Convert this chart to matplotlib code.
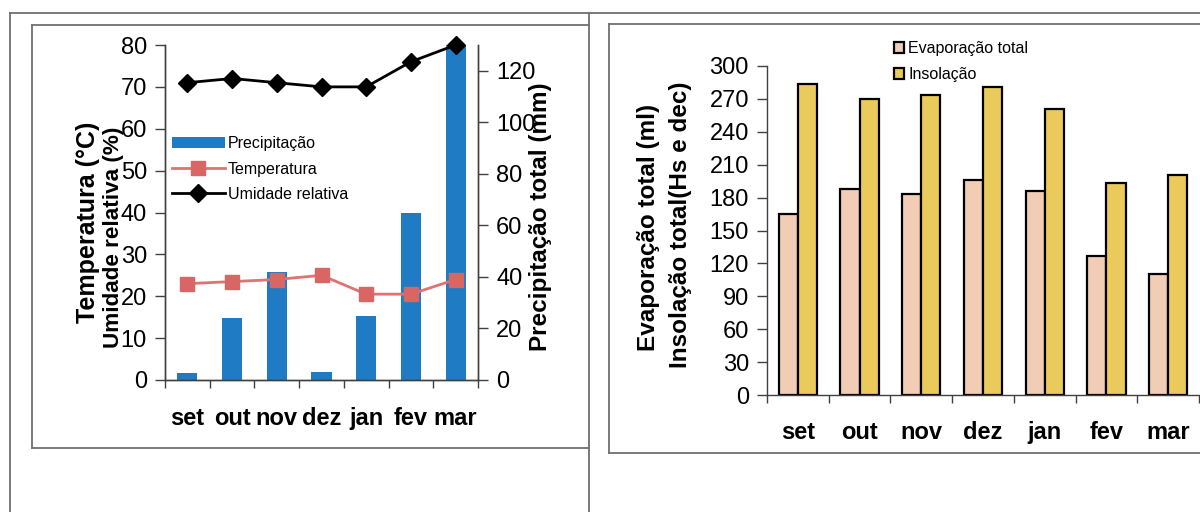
import matplotlib
matplotlib.use('Agg')
import matplotlib.pyplot as plt
from matplotlib.lines import Line2D
import numpy as np

plt.rcParams['font.family'] = ['Liberation Sans', 'DejaVu Sans']

# data
meses = ['set', 'out', 'nov', 'dez', 'jan', 'fev', 'mar']
precipitacao = [2.8, 24, 42, 3.2, 24.7, 65, 130]
temperatura = [23, 23.5, 24, 25, 20.5, 20.5, 24]
umidade = [71, 72, 71, 70, 70, 76, 80]
evaporacao = [165, 188, 183, 196, 186, 127, 110]
insolacao = [284, 270, 274, 281, 261, 193, 201]

W, H = 1200, 512
fig = plt.figure(figsize=(W / 100, H / 100), dpi=100)


def fx(x):
    return x / W


def fy(y):
    return 1 - y / H


def line(x0, y0, x1, y1, color='#707070', lw=1.3):
    fig.add_artist(Line2D([fx(x0), fx(x1)], [fy(y0), fy(y1)],
                          transform=fig.transFigure, color=color, lw=lw))


# frames
line(10, 13, 1200, 13)
line(10, 13, 10, 512)
line(589, 13, 589, 512)
line(32, 25, 589, 25)
line(32, 25, 32, 448)
line(32, 448, 589, 448)
line(609, 24, 1200, 24)
line(609, 24, 609, 453)
line(609, 453, 1200, 453)

AX = '#404040'
TICK_FS = 17
MONTH_FS = 17
LABEL_FS = 17.5
LEG_FS = 11.5
x = np.arange(len(meses))

# ---------- left chart ----------
ax_bar = fig.add_axes([fx(165), fy(380), fx(478) - fx(165), fy(45) - fy(380)])
ax_bar.bar(x, precipitacao, width=0.45, color='#1f7bc4', label='Precipitação')
ax_bar.set_xlim(-0.5, 6.5)
ax_bar.set_ylim(0, 130)
ax_bar.set_yticks([0, 20, 40, 60, 80, 100, 120])

ax_line = ax_bar.twinx()
ax_line.plot(x, temperatura, color='#e07272', lw=2, marker='s', markersize=9.5,
             markerfacecolor='#d96565', markeredgecolor='#d96565', label='Temperatura',
             clip_on=False)
ax_line.plot(x, umidade, color='black', lw=2, marker='D', markersize=9,
             label='Umidade relativa', clip_on=False)
ax_line.set_ylim(0, 80)
ax_line.set_yticks(range(0, 81, 10))

# bars read on the right axis, lines on the left one
ax_bar.yaxis.tick_right()
ax_line.yaxis.tick_left()

for a in (ax_bar, ax_line):
    a.spines['top'].set_visible(False)
    for s in ('left', 'right', 'bottom'):
        a.spines[s].set_color(AX)
        a.spines[s].set_linewidth(1)
    a.tick_params(axis='y', length=7, width=1, color=AX, labelsize=TICK_FS, pad=6)

ax_bar.set_xticks(x)
ax_bar.set_xticklabels(meses, fontsize=MONTH_FS, fontweight='bold')
ax_bar.set_xticks(np.arange(-0.5, 7, 1), minor=True)
ax_bar.tick_params(axis='x', which='major', length=0, pad=19.5)
ax_bar.tick_params(axis='x', which='minor', length=6, width=1, color=AX)

h1, l1 = ax_bar.get_legend_handles_labels()
h2, l2 = ax_line.get_legend_handles_labels()
ax_line.legend(h1 + h2, l1 + l2, loc='upper left', bbox_to_anchor=(fx(172), fy(136)),
               bbox_transform=fig.transFigure, frameon=False, fontsize=LEG_FS,
               handlelength=3.3, handletextpad=0.2, labelspacing=0.66, borderpad=0,
               borderaxespad=0)

fig.text(fx(88), fy(222), 'Temperatura (°C)', rotation=90, ha='center', va='center',
         fontsize=18, fontweight='bold')
fig.text(fx(114), fy(237), 'Umidade relativa (%)', rotation=90, ha='center', va='center',
         fontsize=16.2, fontweight='bold')
fig.text(fx(540), fy(217), 'Precipitação total (mm)', rotation=90, ha='center', va='center',
         fontsize=LABEL_FS, fontweight='bold')

# ---------- right chart ----------
ax2 = fig.add_axes([fx(767), fy(395), fx(1199) - fx(767), fy(66) - fy(395)])
bw = 0.31
ax2.bar(x - bw / 2, evaporacao, width=bw, color='#f1cdb6', edgecolor='black',
        linewidth=1.6, label='Evaporação total')
ax2.bar(x + bw / 2, insolacao, width=bw, color='#ebca5c', edgecolor='black',
        linewidth=1.6, label='Insolação')
ax2.set_xlim(-0.5, 6.5)
ax2.set_ylim(0, 300)
ax2.set_yticks(range(0, 301, 30))
for s in ('top', 'right'):
    ax2.spines[s].set_visible(False)
for s in ('left', 'bottom'):
    ax2.spines[s].set_color(AX)
    ax2.spines[s].set_linewidth(1)
ax2.tick_params(axis='y', length=7, width=1, color=AX, labelsize=TICK_FS, pad=6)
ax2.set_xticks(x)
ax2.set_xticklabels(meses, fontsize=MONTH_FS, fontweight='bold')
ax2.set_xticks(np.arange(-0.5, 7, 1), minor=True)
ax2.tick_params(axis='x', which='major', length=0, pad=19)
ax2.tick_params(axis='x', which='minor', length=6, width=1, color=AX)

ax2.legend(loc='upper left', bbox_to_anchor=(fx(894), fy(41)),
           bbox_transform=fig.transFigure, frameon=False, fontsize=LEG_FS,
           handlelength=0.65, handleheight=0.65, handletextpad=0.25, labelspacing=0.7,
           borderpad=0, borderaxespad=0)

fig.text(fx(648), fy(227), 'Evaporação total (ml)', rotation=90, ha='center', va='center',
         fontsize=LABEL_FS, fontweight='bold')
fig.text(fx(681), fy(225), 'Insolação total(Hs e dec)', rotation=90, ha='center', va='center',
         fontsize=LABEL_FS, fontweight='bold')

fig.savefig('out.png', dpi=100)
